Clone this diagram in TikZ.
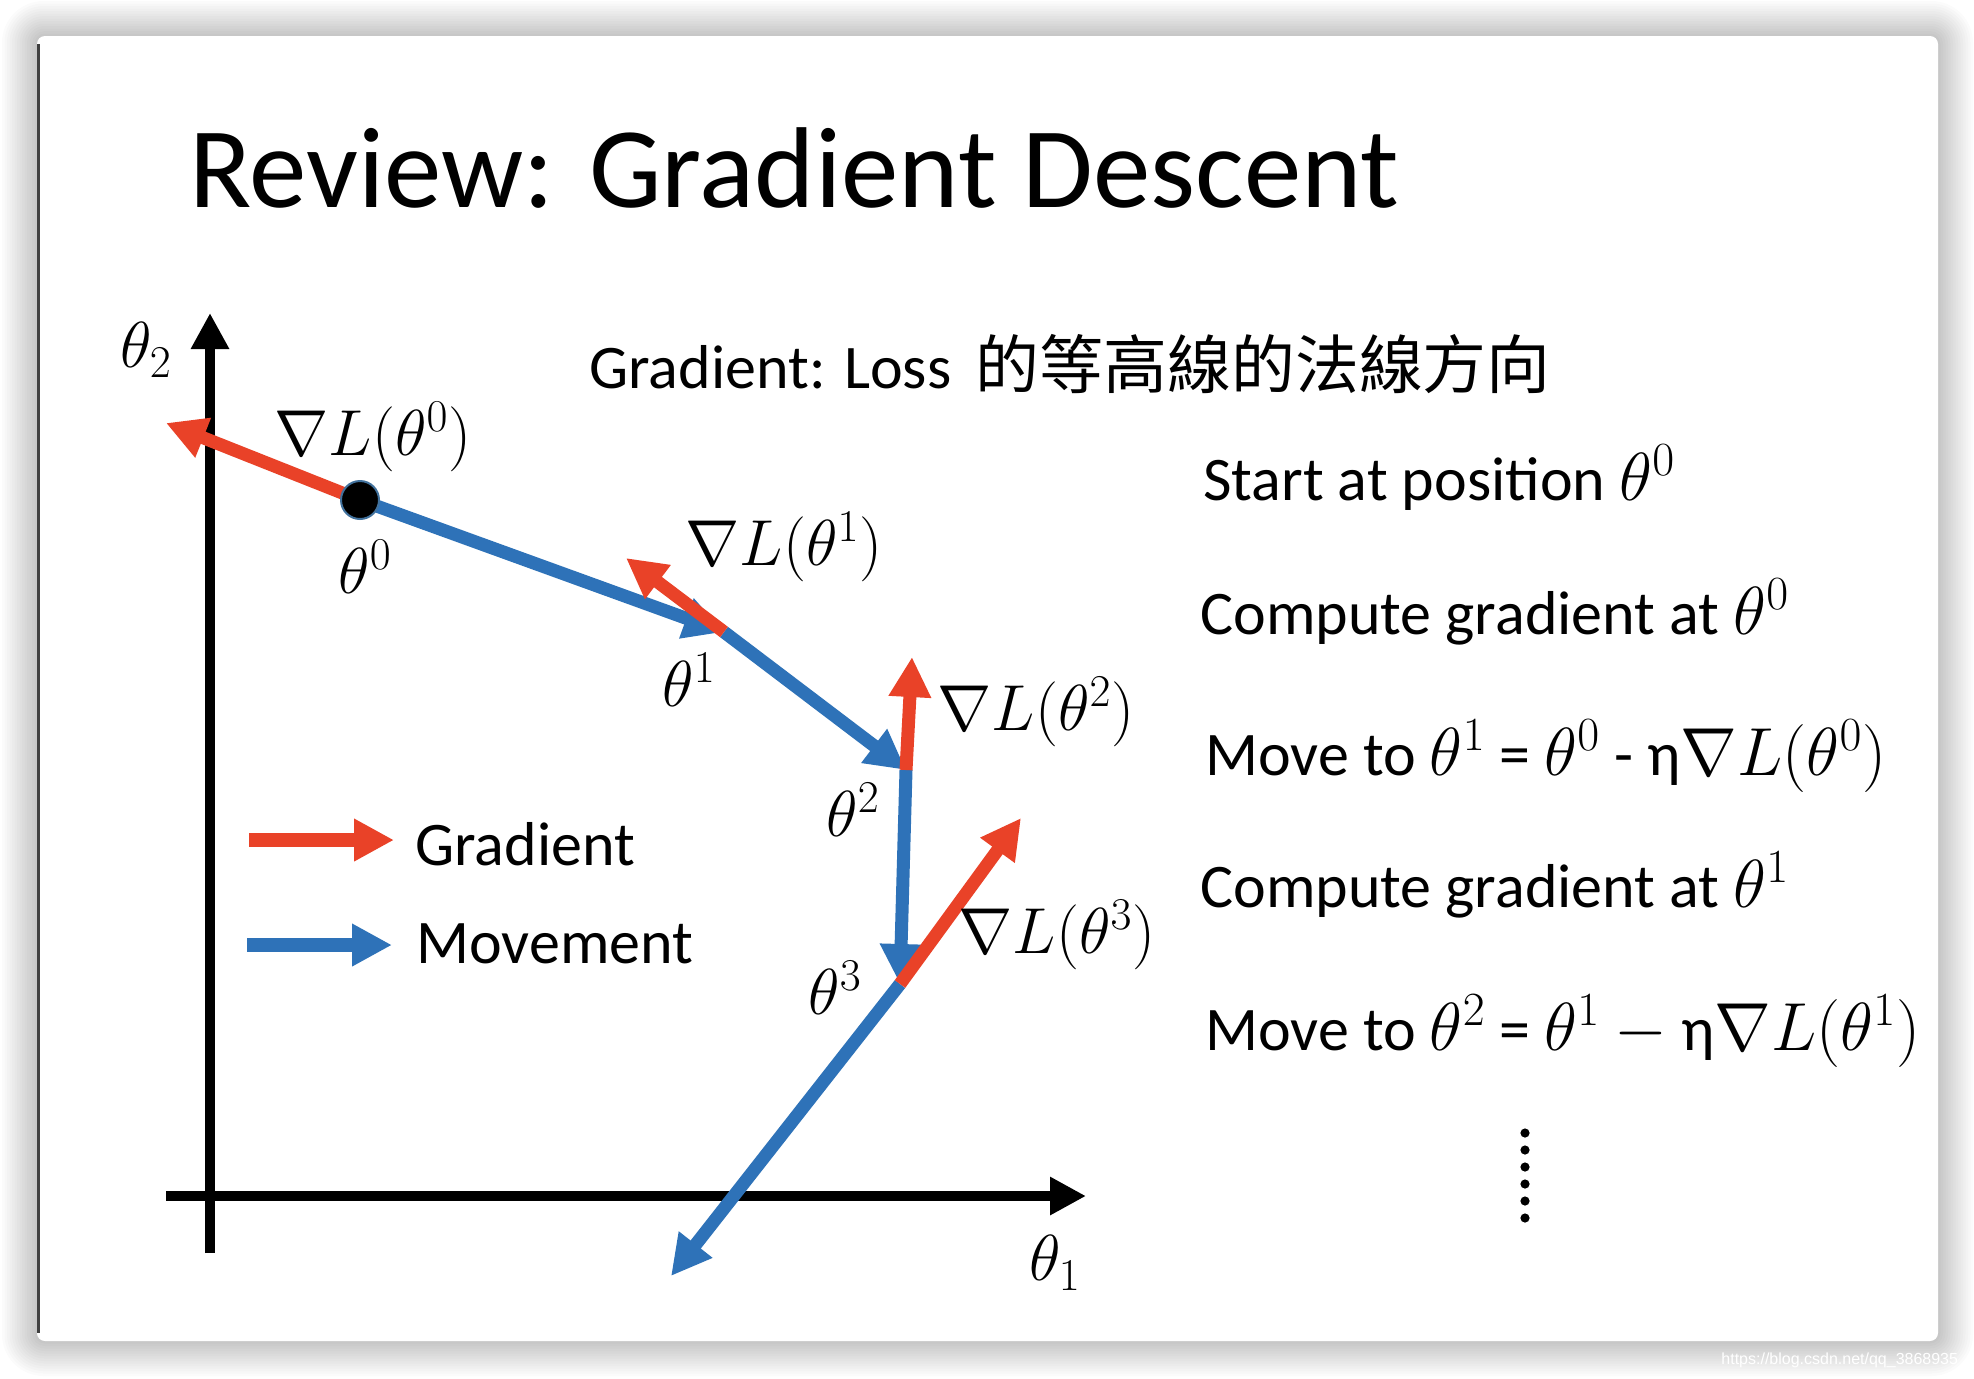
\RequirePackage{fix-cm}
\documentclass[tikz,border=0pt]{standalone}
\usepackage[no-math]{fontspec}
\setmainfont{Carlito}
\newfontfamily\cjkfont[Scale=1.03]{Noto Sans CJK TC}
\newfontfamily\wmfont{Liberation Sans}
\usepackage{amsmath}
\usetikzlibrary{arrows.meta, calc, positioning}
\definecolor{gradred}{RGB}{233, 66, 40}
\definecolor{moveblue}{RGB}{46, 114, 184}
\definecolor{dotrim}{RGB}{65, 113, 156}
\newcommand{\gradL}[1]{$\nabla L(\theta^{#1})$}
\newcommand{\mth}[1]{{\fontsize{34}{37}\selectfont$#1$}}

\begin{document}
\begin{tikzpicture}[x=0.5pt, y=-0.5pt,
  txt/.style={anchor=base west, inner sep=0pt, font=\fontsize{31}{37}\selectfont},
  lbl/.style={inner sep=0pt, font=\fontsize{32.5}{38}\selectfont},
  axis/.style={line width=5pt, -{Triangle[length=18pt, width=18pt]}},
  grad/.style={gradred, line width=6.5pt, -{Triangle[length=20pt, width=20pt]}},
  move/.style={moveblue, line width=6.5pt, -{Triangle[length=20pt, width=20pt]}}]
  \useasboundingbox (0,0) rectangle (1974,1378);
  %---- Slide with its shadow -------------------------------------------------
  \fill[white] (0,0) rectangle (1974,1378);
  \foreach \i in {1,...,14}{
    \pgfmathsetmacro{\rc}{4+\i*1.2}
    \fill[black, opacity=0.016, rounded corners=\rc pt]
      ({37-\i*2.5},{36-\i*2.5}) rectangle ({1938+\i*2.5},{1341+\i*2.5});
  }
  \fill[white, rounded corners=4pt] (37,36) rectangle (1938,1341);
  \draw[black!75, line width=1.2pt] (38.5,44) -- (38.5,1333);
  \node[anchor=base west, inner sep=0pt, white, font=\wmfont\fontsize{8}{10}\selectfont]
    (mark) at (1721,1364) {https://blog.csdn.net/qq\_3868935};
  %---- Title and texts -------------------------------------------------------
  \node[anchor=base west, inner sep=0pt, font=\fontsize{57.5}{68}\selectfont]
    (title) at (189,207) {Review: Gradient Descent};
  \node[txt] (sub) at (589,388) {Gradient: Loss\, {\cjkfont 的等高線的法線方向}};
  \node[txt] (s1) at (1203,500) {Start at position \mth{\theta^0}};
  \node[txt] (s2) at (1200,634) {Compute gradient at \mth{\theta^0}};
  \node[txt] (s3) at (1205,775)
    {Move to \mth{\theta^1} = \mth{\theta^0} - η\mth{\nabla L(\theta^0)}};
  \node[txt] (s4) at (1200,907) {Compute gradient at \mth{\theta^1}};
  \node[txt] (s5) at (1205,1050)
    {Move to \mth{\theta^2} = \mth{\theta^1} \mth{\mathord{-}} η\mth{\nabla L(\theta^1)}};
  \foreach \k in {0,...,5}
    \fill (1525,{1133+\k*17}) circle (2.3pt);
  %---- Axes ------------------------------------------------------------------
  \coordinate (yb) at (210,1253);
  \coordinate (yt) at (210,313);
  \coordinate (xl) at (166,1196);
  \coordinate (xr) at (1086,1196);
  \draw[axis] (yb) -- (yt);
  \draw[axis] (xl) -- (xr);
  \node[lbl] (th2) at (146,350) {$\theta_2$};
  \node[lbl] (th1) at (1055,1263) {$\theta_1$};
  %---- Steps of gradient descent ---------------------------------------------
  \coordinate (t0) at (360,500);
  \coordinate (t1) at (724,632);
  \coordinate (t2) at (906,770);
  \coordinate (t3) at (900,984);
  \coordinate (t4) at (671,1276);
  \coordinate (g0) at (166,423);
  \coordinate (g1) at (626,558);
  \coordinate (g2) at (912,657);
  \coordinate (g3) at (1021,818);
  \draw[move] (t0) -- (t1);
  \draw[move] (t1) -- (t2);
  \draw[move] (t2) -- (t3);
  \draw[move] (t3) -- (t4);
  \draw[grad] (t0) -- (g0);
  \draw[grad] (t1) -- (g1);
  \draw[grad] (t2) -- (g2);
  \draw[grad] (t3) -- (g3);
  \fill[black, draw=dotrim, line width=1pt] (t0) circle (9.5pt);
  \node[lbl] (n0) at (373,437) {\gradL{0}};
  \node[lbl] (n1) at (784,547) {\gradL{1}};
  \node[lbl] (n2) at (1036,712) {\gradL{2}};
  \node[lbl] (n3) at (1057,935) {\gradL{3}};
  \node[lbl] (p0) at (365,567) {$\theta^0$};
  \node[lbl] (p1) at (689,680) {$\theta^1$};
  \node[lbl] (p2) at (853,810) {$\theta^2$};
  \node[lbl] (p3) at (835,988) {$\theta^3$};
  %---- Legend ----------------------------------------------------------------
  \coordinate (lg0) at (249,840);
  \coordinate (lg1) at (394,840);
  \coordinate (lm0) at (247,945);
  \coordinate (lm1) at (392,945);
  \draw[grad, line width=7pt] (lg0) -- (lg1);
  \draw[move, line width=7pt] (lm0) -- (lm1);
  \node[txt] (lgt) at (415,865) {Gradient};
  \node[txt] (lmt) at (416,963) {Movement};
\end{tikzpicture}
\end{document}
